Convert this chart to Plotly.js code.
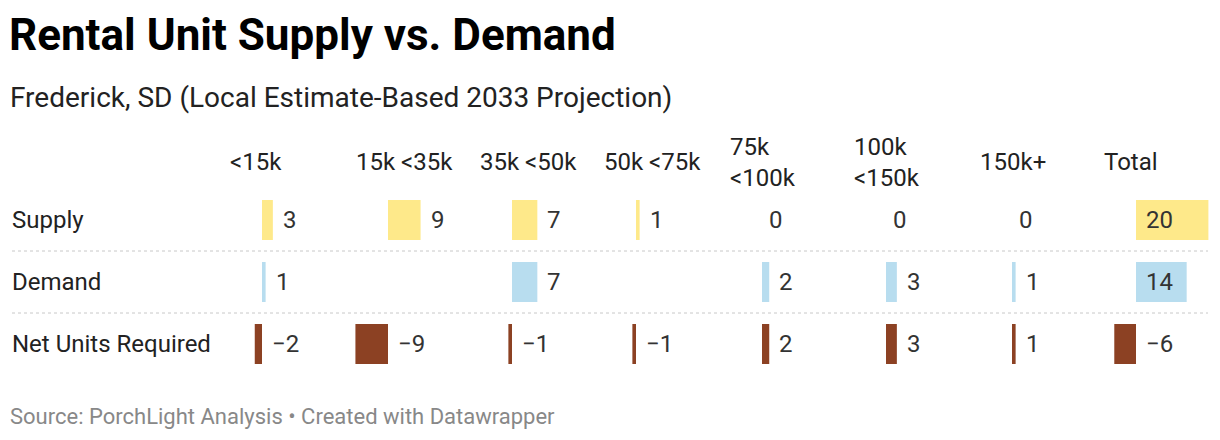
<!DOCTYPE html>
<html>
<head>
<meta charset="utf-8">
<script src="https://cdn.plot.ly/plotly-3.0.1.min.js"></script>
<style>html,body{margin:0;padding:0;background:#fff;}#chart{width:1220px;height:440px;}</style>
</head>
<body>
<div id="chart"></div>
<script>
// ---- data ----
var columns = ['<15k', '15k <35k', '35k <50k', '50k <75k', '75k <100k', '100k <150k', '150k+', 'Total'];
var headerLabels = ['<15k', '15k <35k', '35k <50k', '50k <75k', '75k<br><100k', '100k<br><150k', '150k+', 'Total'];
var rows = ['Supply', 'Demand', 'Net Units Required'];
var supply = [3, 9, 7, 1, 0, 0, 0, 20];
var demand = [1, null, 7, null, 2, 3, 1, 14];
var netUnits = [-2, -9, -1, -1, 2, 3, 1, -6];
var rowColors = ['#fee98a', '#b8ddef', '#8c4123'];

// ---- layout constants ----
var W = 1220, H = 440;
var zeroPx = [262, 388, 512, 636, 762, 886, 1012, 1136];
var pxPerUnit = 3.62;
var leftPad = 40, rightPad = 80;
var rowTop = 189, rowStep = 62;
var font = 'Roboto, "Open Sans", sans-serif';
var tableSize = 24;

function fmt(v) { return v < 0 ? '\u2212' + Math.abs(v) : String(v); }

var series = [supply, demand, netUnits];
var traces = [];
var layout = {
  width: W, height: H,
  margin: {l: 0, r: 0, t: 0, b: 0},
  paper_bgcolor: '#fff', plot_bgcolor: 'rgba(0,0,0,0)',
  showlegend: false,
  bargap: 1 - 40 / rowStep,
  title: {
    text: 'Rental Unit Supply vs. Demand',
    x: 9 / W, xanchor: 'left', xref: 'container',
    y: 1 - 35 / H, yanchor: 'middle', yref: 'container',
    font: {family: font, size: 44, weight: 700, color: '#000'}
  },
  yaxis: {
    type: 'category', categoryarray: rows, categoryorder: 'array',
    range: [2.5, -0.5],
    domain: [(H - (rowTop + 3 * rowStep)) / H, (H - rowTop) / H],
    visible: false, fixedrange: true
  },
  annotations: [],
  shapes: []
};

columns.forEach(function (c, i) {
  var axName = i === 0 ? 'xaxis' : 'xaxis' + (i + 1);
  var axRef = i === 0 ? 'x' : 'x' + (i + 1);
  layout[axName] = {
    domain: [(zeroPx[i] - leftPad) / W, (zeroPx[i] + rightPad) / W],
    range: [-leftPad / pxPerUnit, rightPad / pxPerUnit],
    anchor: 'y', visible: false, fixedrange: true
  };
  var xs = [], ys = [], cols = [];
  series.forEach(function (s, r) {
    if (s[i] !== null) { xs.push(s[i]); ys.push(rows[r]); cols.push(rowColors[r]); }
  });
  traces.push({
    type: 'bar', orientation: 'h', x: xs, y: ys, base: 0,
    marker: {color: cols, line: {width: 0}},
    xaxis: axRef, yaxis: 'y', hoverinfo: 'skip'
  });
  // value labels
  series.forEach(function (s, r) {
    var v = s[i];
    if (v === null) return;
    var isTotal = (c === 'Total');
    layout.annotations.push({
      xref: axRef, yref: 'y',
      x: isTotal ? 0 : Math.max(v, 0), y: rows[r],
      xanchor: 'left', yanchor: 'middle',
      xshift: v === 0 ? 5 : 8,
      text: fmt(v), showarrow: false,
      font: {family: font, size: tableSize, color: '#333'}
    });
  });
  // header
  layout.annotations.push({
    xref: 'paper', yref: 'paper',
    x: (zeroPx[i] - 34) / W, y: 1 - 162 / H,
    xanchor: 'left', yanchor: 'middle', align: 'left',
    text: headerLabels[i], showarrow: false,
    font: {family: font, size: tableSize, color: '#222'}
  });
});

// row labels
rows.forEach(function (r) {
  layout.annotations.push({
    xref: 'paper', yref: 'y', x: 10 / W, y: r,
    xanchor: 'left', yanchor: 'middle',
    text: r, showarrow: false,
    font: {family: font, size: tableSize, color: '#222'}
  });
});

// subtitle
layout.annotations.push({
  xref: 'paper', yref: 'paper', x: 8 / W, y: 1 - 98 / H,
  xanchor: 'left', yanchor: 'middle',
  text: 'Frederick, SD (Local Estimate-Based 2033 Projection)', showarrow: false,
  font: {family: font, size: 28, color: '#222'}
});
// footer
layout.annotations.push({
  xref: 'paper', yref: 'paper', x: 8 / W, y: 1 - 416 / H,
  xanchor: 'left', yanchor: 'middle',
  text: 'Source: PorchLight Analysis \u2022 Created with Datawrapper', showarrow: false,
  font: {family: font, size: 22, color: '#888'}
});

// dotted row separators
[251, 313].forEach(function (py) {
  layout.shapes.push({
    type: 'line', xref: 'paper', yref: 'paper',
    x0: 12 / W, x1: 1208 / W, y0: 1 - py / H, y1: 1 - py / H,
    line: {color: '#c8c8c8', width: 1, dash: 'dot'}
  });
});

Plotly.newPlot('chart', traces, layout, {staticPlot: true, displayModeBar: false});
</script>
</body>
</html>
